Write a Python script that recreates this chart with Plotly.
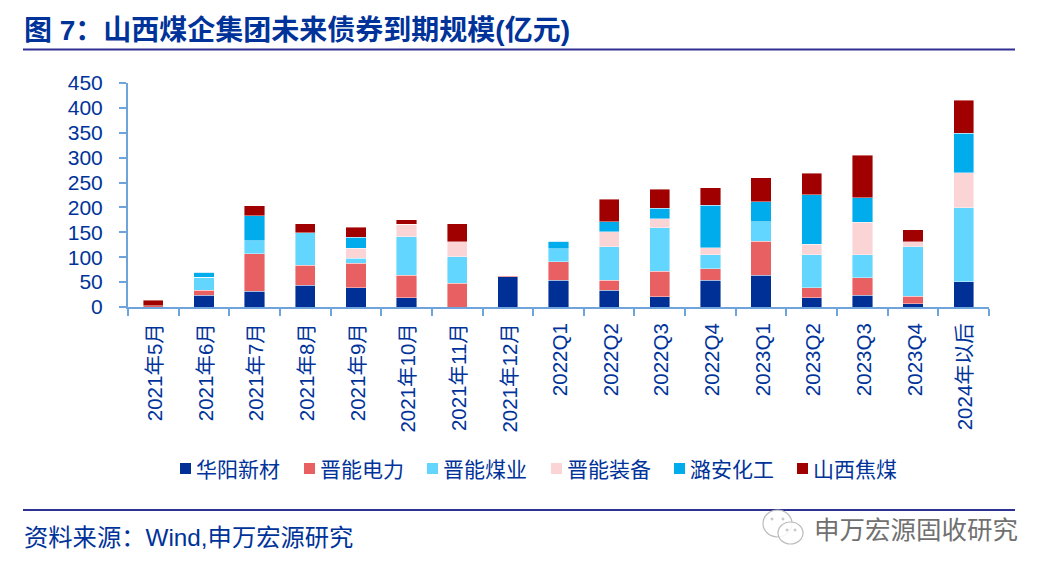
import plotly.graph_objects as go

categories = ["2021年5月","2021年6月","2021年7月","2021年8月","2021年9月","2021年10月","2021年11月","2021年12月",
              "2022Q1","2022Q2","2022Q3","2022Q4","2023Q1","2023Q2","2023Q3","2023Q4","2024年以后"]
huayang = [0,24,32,44,39,19,0,61,54,34,21,54,64,19,24,7,51]
dianli  = [3,10,75,40,49,45,48,2,37,20,51,23,68,20,35,15,0]
meiye   = [0,26,26,65,10,77,53,0,26,67,87,28,39,66,46,99,148]
zhuangbei=[0,0,0,0,20,25,30,1,0,30,18,14,0,21,65,10,71]
luan    = [0,10,50,0,22,0,0,0,15,20,21,85,40,100,49,0,79]
jiaomei = [11,0,20,18,20,9,36,0,0,45,39,36,49,43,86,24,66]
yticks = [0,50,100,150,200,250,300,350,400,450]
series = [("华阳新材",huayang,"#002F96"),("晋能电力",dianli,"#E96062"),("晋能煤业",meiye,"#63D6FF"),
          ("晋能装备",zhuangbei,"#FBD5D6"),("潞安化工",luan,"#00ACEC"),("山西焦煤",jiaomei,"#A00000")]
legend_x = [180,304,427,551,674,797]

W,H = 1053,576
L,R,T,B = 128,989,83,307
BLUE = "#00339A"
CJK = "Liberation Sans, Noto Sans CJK SC, sans-serif"
def px(x): return (x-L)/(R-L)
def py(y): return (B-y)/(B-T)

fig = go.Figure()
for name,vals,col in series:
    fig.add_bar(name=name,x=categories,y=vals,showlegend=False,
                marker=dict(color=col,line=dict(color="rgba(255,255,255,0.6)",width=0.7)))

def rule(y):
    return dict(type="line",xref="paper",yref="paper",x0=px(23),x1=px(1015),y0=py(y),y1=py(y),
                line=dict(color="#2E3192",width=2))
def box(kind,x0,y0,x1,y1,**kw):
    return dict(type=kind,xref="paper",yref="paper",x0=px(x0),x1=px(x1),y0=py(y0),y1=py(y1),**kw)
shapes = [rule(49.5),rule(510)]
# WeChat-style watermark outline
for (x0,y0,x1,y1) in [(763,510,792,537),(778,522,803,544)]:
    shapes.append(box("circle",x0,y0,x1,y1,line=dict(color="#BBBBBB",width=1.2),fillcolor="rgba(255,255,255,0.85)"))
for (cx,cy) in [(772,519),(783,519),(787,530),(795,530)]:
    shapes.append(box("circle",cx-1,cy-1,cx+1,cy+1,line=dict(color="#AAAAAA",width=0.8),fillcolor="white"))

ann = [
 dict(text="图 7：山西煤企集团未来债券到期规模(亿元)",x=px(23),y=py(31),xanchor="left",yanchor="middle",
      font=dict(size=28,color=BLUE,family=CJK,weight="bold")),
 dict(text="资料来源：Wind,申万宏源研究",x=px(23),y=py(537),xanchor="left",yanchor="middle",
      font=dict(size=24.3,color=BLUE,family=CJK)),
 dict(text="申万宏源固收研究",x=px(1019),y=py(530),xanchor="right",yanchor="middle",
      font=dict(size=25.5,color="#707070",family=CJK)),
]
for (name,vals,col),lx in zip(series,legend_x):
    shapes.append(box("rect",lx,463,lx+11,474,line=dict(width=0),fillcolor=col))
    ann.append(dict(text=name,x=px(lx+15),y=py(469),xanchor="left",yanchor="middle",
                    font=dict(size=21,color=BLUE,family=CJK)))
for a in ann:
    a.update(xref="paper",yref="paper",showarrow=False,borderpad=0)

fig.update_layout(
    width=W,height=H,margin=dict(l=L,r=W-R,t=T,b=H-B,autoexpand=False),
    barmode="stack",bargap=0.6,plot_bgcolor="white",paper_bgcolor="white",
    font=dict(family=CJK,color=BLUE,size=20),showlegend=False,
    shapes=shapes,annotations=ann,
    xaxis=dict(type="category",categoryorder="array",categoryarray=categories,tickson="boundaries",
               ticks="outside",ticklen=7,tickcolor="#6FA3DB",tickwidth=2,showline=True,linecolor="#6FA3DB",linewidth=2,
               tickangle=-90,tickfont=dict(size=20.5,color=BLUE),showgrid=False,ticklabelstandoff=6,ticklabelshift=2),
    yaxis=dict(range=[0,450],tickvals=yticks,ticks="outside",ticklen=7,tickcolor="#6FA3DB",tickwidth=2,
               showline=True,linecolor="#6FA3DB",linewidth=2,tickfont=dict(size=21,color=BLUE),showgrid=False,zeroline=False,
               ticklabelstandoff=12),
)
fig.write_html("out.html",post_script="document.body.style.margin='0';",config={"displayModeBar":False})
